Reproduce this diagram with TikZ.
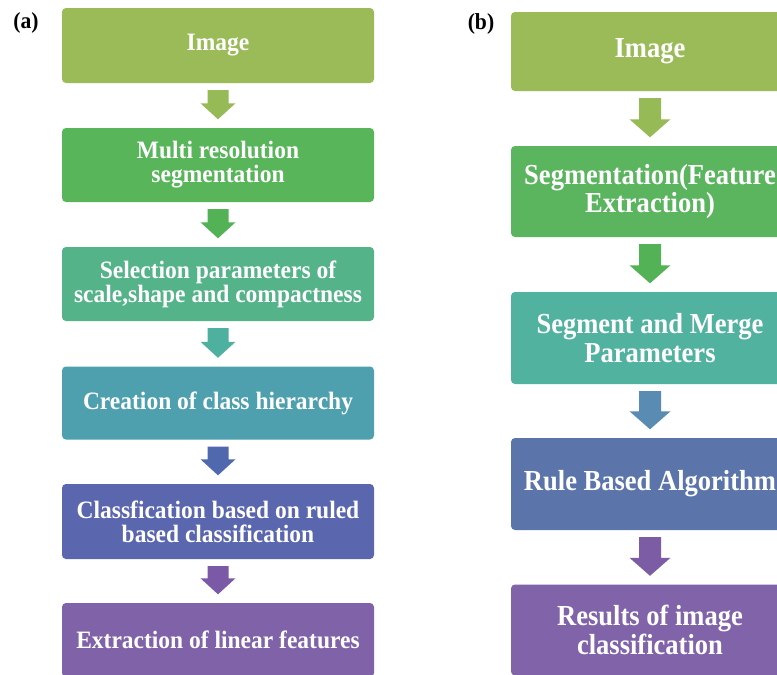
\documentclass[tikz,border=0pt]{standalone}
\usepackage{fontspec}
\setmainfont{Liberation Serif}
\newfontfamily\lfont[FakeStretch=0.94]{Liberation Serif}
\newfontfamily\rfont[FakeStretch=0.915]{Liberation Serif}
\usetikzlibrary{calc}
\definecolor{ca1}{HTML}{9BBB59}
\definecolor{ca2}{HTML}{58B55A}
\definecolor{ca3}{HTML}{55B38A}
\definecolor{ca4}{HTML}{4FA0AE}
\definecolor{ca5}{HTML}{5A66AD}
\definecolor{ca6}{HTML}{8062A8}
\definecolor{cb2}{HTML}{5AB55E}
\definecolor{cb3}{HTML}{52B2A0}
\definecolor{cb4}{HTML}{5B75AA}
\definecolor{cb5}{HTML}{8063A8}
\definecolor{aa1}{HTML}{96BA55}
\definecolor{aa2}{HTML}{52B255}
\definecolor{aa3}{HTML}{4EB1A0}
\definecolor{aa4}{HTML}{5069AE}
\definecolor{aa5}{HTML}{7B59A6}
\definecolor{ab3}{HTML}{5A8BB2}
\definecolor{ab4}{HTML}{7D5CA6}
% block arrow: from node #1 to node #2, colour #3, shaft half-width #4, head half-width #5, head length #6
\newcommand{\blockarr}[6]{%
  \path ($(#1.south)+(0,7)$) coordinate (bt) ($(#2.north)+(0,-8.5)$) coordinate (bb);
  \fill[#3] ($(bt)+(-#4,0)$) -- ($(bt)+(#4,0)$) -- ($(bb)+(#4,-#6)$) -- ($(bb)+(#5,-#6)$)
     -- (bb) -- ($(bb)+(-#5,-#6)$) -- ($(bb)+(-#4,-#6)$) -- cycle;}
\begin{document}
\begin{tikzpicture}[x=1pt,y=-1pt]
\tikzset{
  lbox/.style={rectangle, rounded corners=4pt, minimum width=312pt, text=white, align=center,
    font=\lfont\fontsize{25}{24}\selectfont\bfseries, inner sep=0pt},
  rbox/.style={rectangle, rounded corners=4pt, minimum width=278pt, text=white, align=center,
    font=\rfont\fontsize{29}{28.5}\selectfont\bfseries, inner sep=0pt},
  tag/.style={font=\lfont\fontsize{23}{25}\selectfont\bfseries, inner sep=0pt}
}
\clip (0,0) rectangle (777,675);
\fill[white] (0,0) rectangle (777,675);
% panel labels
\node[tag] (la) at (26,23) {(a)};
\node[tag] (lb) at (481,24) {(b)};
% left column
\node[lbox, fill=ca1, minimum height=75pt] (a1) at (218,45.5) {Image};
\node[lbox, fill=ca2, minimum height=74pt] (a2) at (218,165) {Multi resolution\\segmentation};
\node[lbox, fill=ca3, minimum height=74pt] (a3) at (218,284) {Selection parameters of\\scale,shape and compactness};
\node[lbox, fill=ca4, minimum height=73pt] (a4) at (218,403) {Creation of class hierarchy};
\node[lbox, fill=ca5, minimum height=75pt] (a5) at (218,521.5) {Classfication based on ruled\\based classification};
\node[lbox, fill=ca6, minimum height=74pt] (a6) at (218,640) {Extraction of linear features};
\blockarr{a1}{a2}{aa1}{10.5}{17.5}{16}
\blockarr{a2}{a3}{aa2}{10.5}{17.5}{16}
\blockarr{a3}{a4}{aa3}{10.5}{17.5}{16}
\blockarr{a4}{a5}{aa4}{10.5}{17.5}{16}
\blockarr{a5}{a6}{aa5}{10.5}{17.5}{16}
% right column
\node[rbox, fill=ca1, minimum height=79pt] (b1) at (650,51.5) {Image};
\node[rbox, fill=cb2, minimum height=91pt] (b2) at (650,191.5) {Segmentation(Feature\\Extraction)};
\node[rbox, fill=cb3, minimum height=92pt] (b3) at (650,338) {Segment and Merge\\Parameters};
\node[rbox, fill=cb4, minimum height=92pt] (b4) at (650,484) {Rule Based Algorithm};
\node[rbox, fill=cb5, minimum height=91pt] (b5) at (650,630) {Results of image\\classification};
\blockarr{b1}{b2}{aa1}{11}{20.5}{18}
\blockarr{b2}{b3}{aa2}{11}{20.5}{18}
\blockarr{b3}{b4}{ab3}{11}{20.5}{18}
\blockarr{b4}{b5}{ab4}{11}{20.5}{18}
\end{tikzpicture}
\end{document}
